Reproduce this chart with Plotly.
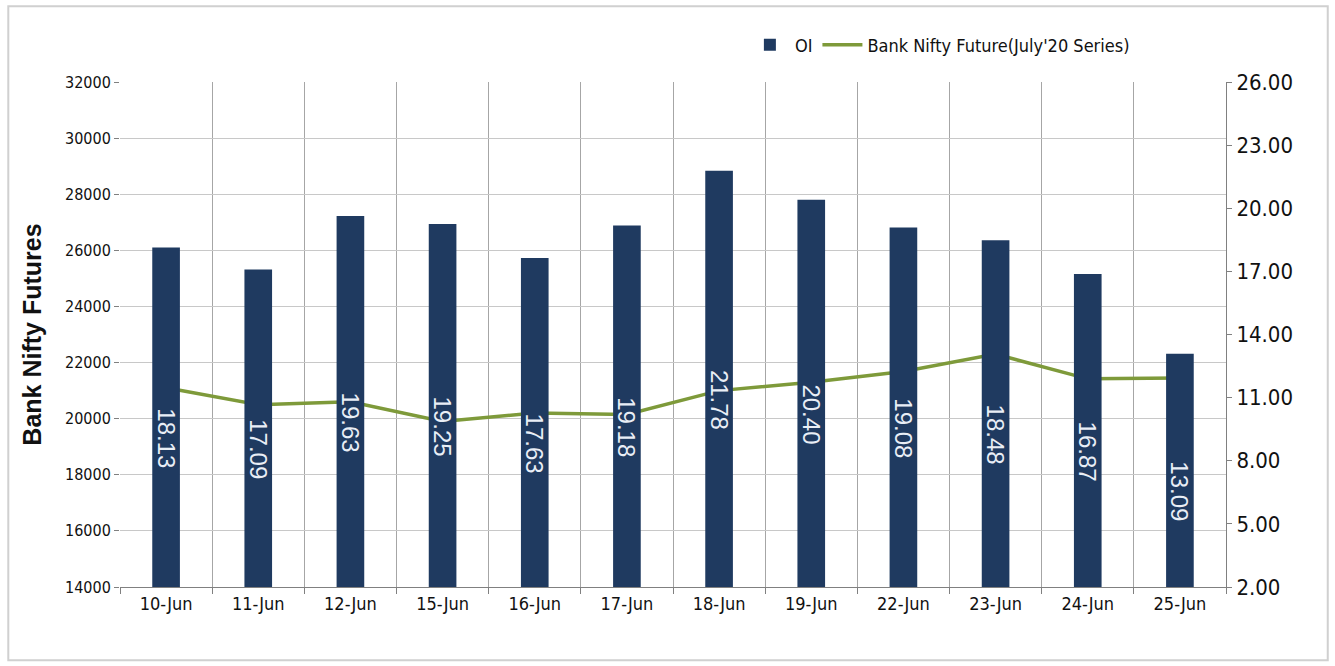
import plotly.graph_objects as go

dates = ["10-Jun", "11-Jun", "12-Jun", "15-Jun", "16-Jun", "17-Jun",
         "18-Jun", "19-Jun", "22-Jun", "23-Jun", "24-Jun", "25-Jun"]
oi_values = [18.13, 17.09, 19.63, 19.25, 17.63, 19.18,
             21.78, 20.40, 19.08, 18.48, 16.87, 13.09]
future_prices = [21100, 20500, 20600, 19900, 20200, 20150,
                 21000, 21300, 21680, 22300, 21420, 21450]

left_ticks = list(range(14000, 32001, 2000))
right_ticks = [2, 5, 8, 11, 14, 17, 20, 23, 26]

NARROW = "Liberation Sans Narrow, Arial Narrow, DejaVu Sans Condensed, sans-serif"

fig = go.Figure()
fig.add_trace(go.Bar(
    x=dates, y=oi_values, name="OI", yaxis="y2",
    marker=dict(color="#1F3A60", line=dict(width=0)),
    width=0.3,
    text=[f"{v:.2f}" for v in oi_values],
    textposition="inside", insidetextanchor="middle",
    textangle=90, constraintext="none",
    textfont=dict(family="Liberation Sans, Arial, sans-serif", size=24, color="#E9EEF6"),
))
fig.add_trace(go.Scatter(
    x=dates, y=future_prices, name="Bank Nifty Future(July'20 Series)",
    yaxis="y", mode="lines",
    line=dict(color="#7E9A3A", width=3.5),
))

fig.update_layout(
    width=1335, height=666,
    margin=dict(l=120, r=109, t=82, b=79),
    paper_bgcolor="white", plot_bgcolor="white",
    showlegend=True,
    legend=dict(orientation="h", x=0.565, y=1.073, xanchor="left", yanchor="middle",
                font=dict(family=NARROW, size=18, color="#111"),
                bgcolor="rgba(0,0,0,0)", itemwidth=40, traceorder="normal"),
    xaxis=dict(
        type="category", tickson="boundaries",
        showgrid=True, gridcolor="#A6A6A6", gridwidth=1,
        showline=True, linecolor="#808080", linewidth=1,
        ticks="outside", ticklen=6, tickcolor="#808080",
        tickfont=dict(family=NARROW, size=18, color="#111"),
    ),
    yaxis=dict(
        range=[14000, 32000], tickvals=left_ticks, tickformat="d",
        showgrid=True, gridcolor="#C8C8C8", gridwidth=1,
        showline=False, zeroline=False,
        ticks="outside", ticklen=5, tickcolor="#808080",
        tickfont=dict(family=NARROW, size=16, color="#111"),
        title=dict(text="<b>Bank Nifty Futures</b>",
                   font=dict(family="Liberation Sans, Arial, sans-serif", size=25, color="#111"),
                   standoff=16),
    ),
    yaxis2=dict(
        range=[2, 26], tickvals=right_ticks, tickformat=".2f",
        overlaying="y", side="right", showgrid=False, zeroline=False,
        showline=True, linecolor="#808080", linewidth=1,
        ticks="outside", ticklen=5, tickcolor="#808080",
        tickfont=dict(family=NARROW, size=22, color="#111"),
    ),
    bargap=0.7,
)

fig.add_shape(type="rect", xref="paper", yref="paper",
              x0=-0.101, x1=1.092, y0=-0.145, y1=1.150,
              line=dict(color="#D0D0D0", width=2), fillcolor="rgba(0,0,0,0)", layer="below")

fig.write_html("out.html")
